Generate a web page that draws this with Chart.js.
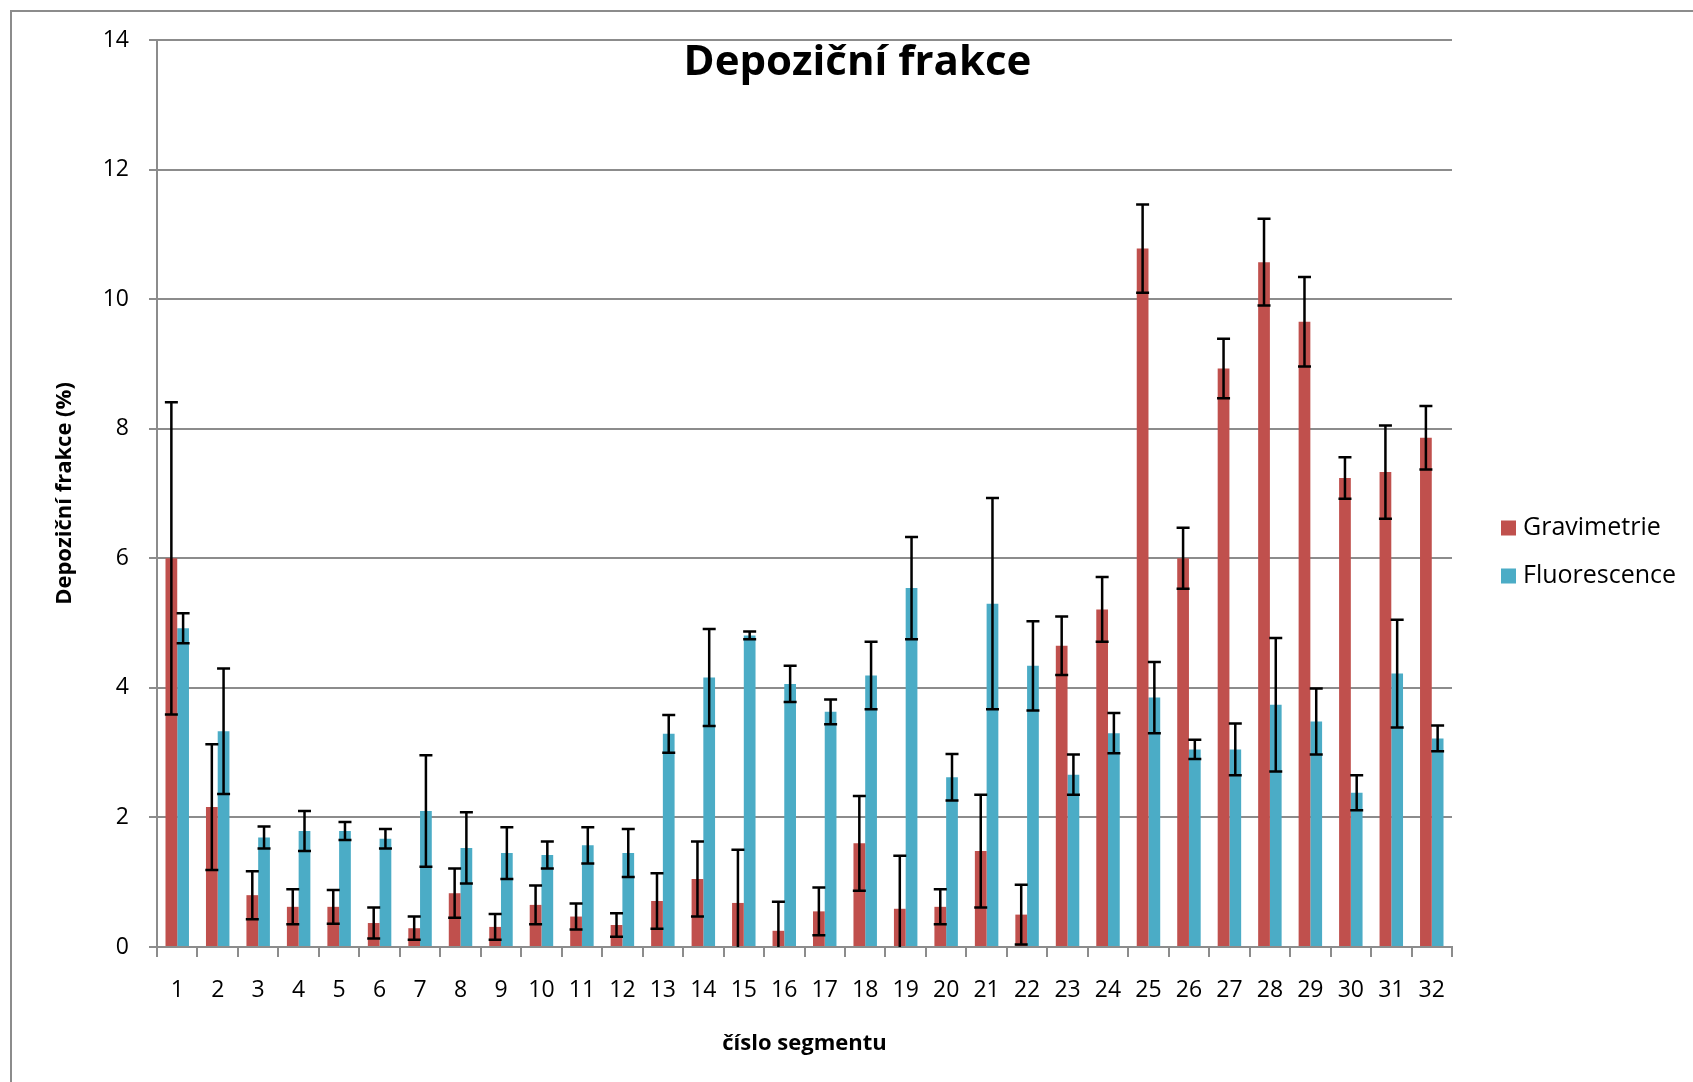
<!DOCTYPE html>
<html lang="cs">
<head>
<meta charset="utf-8">
<title>Depoziční frakce</title>
<script src="https://cdn.jsdelivr.net/npm/chart.js@4.4.1/dist/chart.umd.min.js"></script>
<style>
  body { margin: 0; background: #fff; }
  #obal { position: relative; width: 1693px; height: 1082px; overflow: hidden; }
  #ramecek { position: absolute; left: 10px; top: 10px; width: 1700px; height: 1100px;
             border-top: 2px solid #8c8c8c; border-left: 2px solid #8c8c8c; }
  canvas { position: absolute; left: 0; top: 0; }
</style>
</head>
<body>
<div id="obal">
  <div id="ramecek"></div>
  <canvas id="grafDepozice" width="1693" height="1082"></canvas>
</div>
<script>
// data
const segmenty = ["1","2","3","4","5","6","7","8","9","10","11","12","13","14","15","16",
  "17","18","19","20","21","22","23","24","25","26","27","28","29","30","31","32"];

const gravimetrie = [6.0, 2.16, 0.80, 0.62, 0.62, 0.37, 0.29, 0.83, 0.31, 0.65, 0.47, 0.34, 0.71, 1.05, 0.68, 0.25,
  0.55, 1.60, 0.59, 0.62, 1.48, 0.50, 4.65, 5.21, 10.78, 6.0, 8.93, 10.57, 9.65, 7.24, 7.33, 7.86];
const gravimetrieChyba = [2.41, 0.97, 0.37, 0.27, 0.26, 0.24, 0.18, 0.38, 0.20, 0.30, 0.20, 0.18, 0.43, 0.58, 0.82, 0.45,
  0.37, 0.73, 0.82, 0.27, 0.87, 0.46, 0.45, 0.50, 0.68, 0.47, 0.46, 0.67, 0.69, 0.32, 0.72, 0.49];

const fluorescence = [4.92, 3.33, 1.69, 1.79, 1.79, 1.67, 2.10, 1.53, 1.45, 1.42, 1.57, 1.45, 3.29, 4.16, 4.81, 4.06,
  3.63, 4.19, 5.54, 2.62, 5.30, 4.34, 2.66, 3.30, 3.85, 3.05, 3.05, 3.74, 3.48, 2.38, 4.22, 3.22];
const fluorescenceChyba = [0.23, 0.97, 0.17, 0.31, 0.14, 0.15, 0.86, 0.55, 0.40, 0.21, 0.28, 0.37, 0.29, 0.75, 0.06, 0.28,
  0.19, 0.52, 0.79, 0.36, 1.63, 0.69, 0.31, 0.31, 0.55, 0.15, 0.40, 1.03, 0.51, 0.27, 0.83, 0.20];

const sedaOsa = "#8c8c8c";

// chybove usecky pres osu y
const chyboveUsecky = {
  id: "chyboveUsecky",
  afterDatasetsDraw(chart) {
    const ctx = chart.ctx;
    const area = chart.chartArea;
    const y = chart.scales.y;
    ctx.save();
    ctx.beginPath();
    ctx.rect(area.left, area.top - 20, area.right - area.left, area.bottom - area.top + 20);
    ctx.clip();
    ctx.strokeStyle = "#000";
    ctx.lineWidth = 2.5;
    chart.data.datasets.forEach((ds, di) => {
      const meta = chart.getDatasetMeta(di);
      meta.data.forEach((bar, i) => {
        const hodnota = ds.data[i];
        const chyba = ds.chyby[i];
        const horni = y.getPixelForValue(hodnota + chyba);
        const dolni = y.getPixelForValue(hodnota - chyba);
        ctx.beginPath();
        ctx.moveTo(bar.x, horni);
        ctx.lineTo(bar.x, dolni);
        ctx.moveTo(bar.x - 6.5, horni);
        ctx.lineTo(bar.x + 6.5, horni);
        ctx.moveTo(bar.x - 6.5, dolni);
        ctx.lineTo(bar.x + 6.5, dolni);
        ctx.stroke();
      });
    });
    ctx.restore();
  }
};

// nadpis uvnitr grafu a legenda vpravo
const popisky = {
  id: "popisky",
  afterDraw(chart) {
    const ctx = chart.ctx;
    const area = chart.chartArea;
    ctx.save();
    ctx.fillStyle = "#000";
    ctx.font = "bold 42px 'Open Sans'";
    ctx.textAlign = "center";
    ctx.textBaseline = "middle";
    ctx.fillText("Depoziční frakce", chart.width / 2 + 11, 63);

    ctx.font = "25px 'Open Sans'";
    ctx.textAlign = "left";
    const stred = (area.top + area.bottom) / 2;
    chart.data.datasets.forEach((ds, i) => {
      const yy = stred + 34 + i * 48;
      ctx.fillStyle = ds.backgroundColor;
      ctx.fillRect(area.right + 49, yy - 7, 15, 15);
      ctx.fillStyle = "#000";
      ctx.fillText(ds.label, area.right + 71, yy);
    });
    ctx.restore();
  }
};

const ctx = document.getElementById("grafDepozice").getContext("2d");
new Chart(ctx, {
  type: "bar",
  data: {
    labels: segmenty,
    datasets: [{
      label: "Gravimetrie",
      data: gravimetrie,
      chyby: gravimetrieChyba,
      backgroundColor: "#C0504D"
    }, {
      label: "Fluorescence",
      data: fluorescence,
      chyby: fluorescenceChyba,
      backgroundColor: "#4BACC6"
    }]
  },
  options: {
    responsive: false,
    animation: false,
    categoryPercentage: 0.58,
    barPercentage: 1.0,
    layout: { padding: { left: 11, right: 241, top: 40, bottom: 0 } },
    plugins: {
      legend: { display: false },
      title: { display: false },
      tooltip: { enabled: false }
    },
    scales: {
      x: {
        offset: true,
        grid: { offset: true, drawOnChartArea: false, drawTicks: true, tickLength: 10, color: sedaOsa, lineWidth: 2 },
        border: { color: sedaOsa, width: 2 },
        ticks: { color: "#000", font: { family: "'Open Sans'", size: 23 }, padding: 20, maxRotation: 0, autoSkip: false },
        title: {
          display: true,
          text: "číslo segmentu",
          color: "#000",
          font: { family: "'Open Sans'", size: 22, weight: "bold" },
          padding: { top: 0, bottom: 25 }
        },
        afterFit: (s) => { s.height = 135; }
      },
      y: {
        min: 0,
        max: 14,
        ticks: { stepSize: 2, color: "#000", font: { family: "'Open Sans'", size: 23 }, padding: 20 },
        grid: { color: sedaOsa, lineWidth: 2, tickLength: 8 },
        border: { color: sedaOsa, width: 2 },
        title: {
          display: true,
          text: "Depoziční frakce (%)",
          color: "#000",
          font: { family: "'Open Sans'", size: 22, weight: "bold" },
          padding: { top: 41, bottom: 0 }
        },
        afterFit: (s) => { s.width = 146; }
      }
    }
  },
  plugins: [chyboveUsecky, popisky]
});
</script>
</body>
</html>
